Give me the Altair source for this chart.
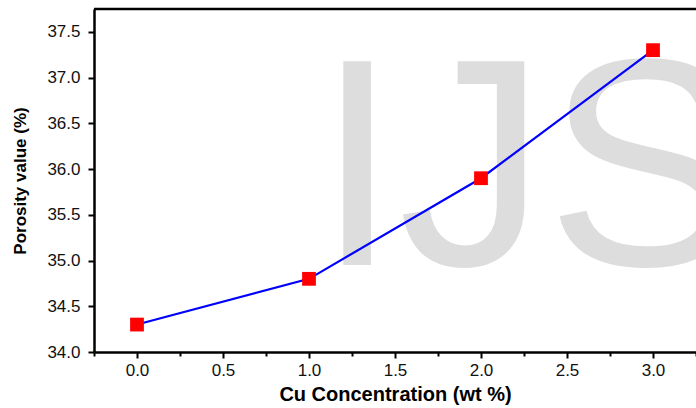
import altair as alt
import pandas as pd

cu = [0.0, 1.0, 2.0, 3.0]
porosity = [34.3, 34.8, 35.9, 37.3]

x_ticks = [-0.25, 0.0, 0.25, 0.5, 0.75, 1.0, 1.25, 1.5, 1.75, 2.0, 2.25, 2.5, 2.75, 3.0, 3.25]
y_ticks = [34.0, 34.25, 34.5, 34.75, 35.0, 35.25, 35.5, 35.75, 36.0, 36.25, 36.5, 36.75,
           37.0, 37.25, 37.5]

df = pd.DataFrame({"cu": cu, "porosity": porosity})

FONT = "Liberation Sans"
major_test = "abs(datum.value*2 - round(datum.value*2)) < 0.001"

xscale = alt.Scale(domain=[-0.25, 3.25], nice=False, zero=False)
yscale = alt.Scale(domain=[34.0, 37.75], nice=False, zero=False)

x_axis = alt.Axis(
    values=x_ticks, format=".1f", title="Cu Concentration (wt %)",
    labelExpr=f"({major_test}) && datum.value >= 0 ? datum.label : ''",
    tickSize={"condition": {"test": major_test, "value": 6}, "value": 4},
    tickWidth=2, domainWidth=2.5, domainColor="black", tickColor="black",
    labelFont=FONT, labelFontSize=17, labelColor="#111", labelPadding=4,
    labelOverlap=False, grid=False,
    titleFont=FONT, titleFontSize=20, titleFontWeight="bold", titleColor="black",
    titlePadding=6,
)
y_axis = alt.Axis(
    values=y_ticks, format=".1f", title="Porosity value (%)",
    labelExpr=f"({major_test}) ? datum.label : ''",
    tickSize={"condition": {"test": major_test, "value": 6}, "value": 4},
    tickWidth=2, domainWidth=2.5, domainColor="black", tickColor="black",
    labelFont=FONT, labelFontSize=17, labelColor="#111", labelPadding=8,
    labelOverlap=False, grid=False,
    titleFont=FONT, titleFontSize=17, titleFontWeight="bold", titleColor="black",
    titlePadding=17,
)

base = alt.Chart(df)

watermark = alt.Chart(pd.DataFrame({"t": ["IJS"]})).mark_text(
    font=FONT, fontSize=296, color="#dddddd", align="left", baseline="alphabetic"
).encode(text="t:N", x=alt.value(222), y=alt.value(256))

line = base.mark_line(color="#0000ff", strokeWidth=2.2).encode(
    x=alt.X("cu:Q", scale=xscale, axis=x_axis),
    y=alt.Y("porosity:Q", scale=yscale, axis=y_axis),
)
points = base.mark_point(shape="square", filled=True, size=190, color="#ff0000", opacity=1).encode(
    x=alt.X("cu:Q", scale=xscale),
    y=alt.Y("porosity:Q", scale=yscale),
)
top = alt.Chart(pd.DataFrame({"v": [37.75]})).mark_rule(color="black", strokeWidth=2.5).encode(
    y=alt.Y("v:Q", scale=yscale)
)

chart = alt.layer(watermark, top, line, points).properties(
    width=602, height=343,
    autosize=alt.AutoSizeParams(type="none"),
    padding={"left": 94, "top": 9, "right": 0, "bottom": 56},
).configure_view(stroke=None).configure(background="white")

chart.save("out.html", embed_options={"renderer": "svg", "actions": False})
